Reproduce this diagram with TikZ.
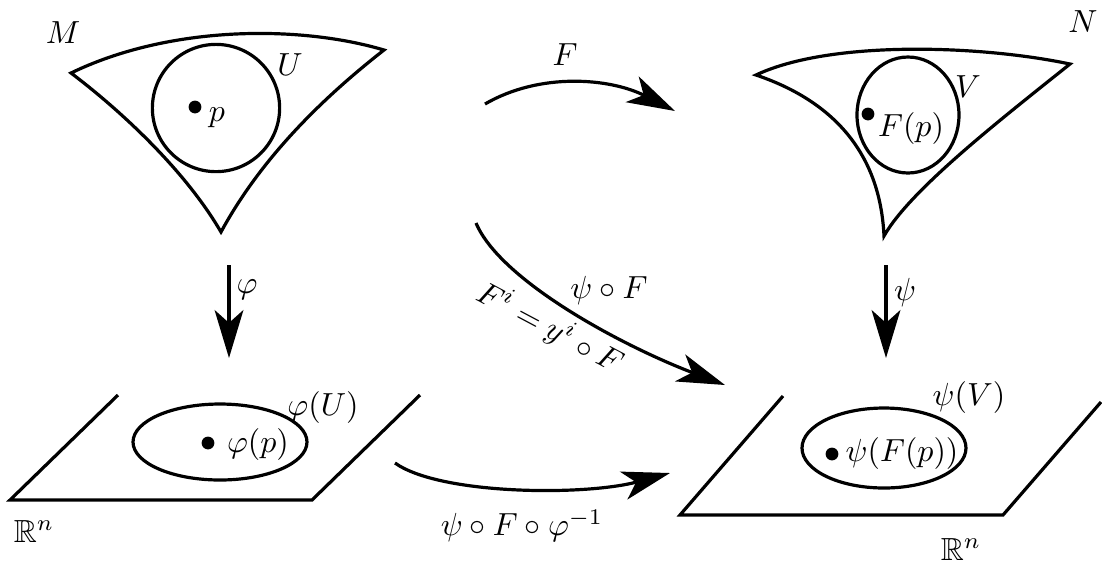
\documentclass[tikz,border=0pt]{standalone}
\usepackage{amsmath,amssymb}
\usetikzlibrary{arrows.meta}

\begin{document}
\begin{tikzpicture}[x=0.011cm,y=-0.011cm,line width=1pt,
  map/.style={-{Stealth[length=15pt,width=9pt,inset=4pt]}},
  every node/.style={inner sep=1pt}]
\useasboundingbox (0,0) rectangle (1102,560);
% manifolds M and N
\coordinate (m1) at (71,73);
\coordinate (m2) at (384,50);
\coordinate (m3) at (221,232);
\coordinate (n1) at (756,75);
\coordinate (n2) at (1070,64);
\coordinate (n3) at (884,236);
\draw (m1) .. controls (170,25) and (300,25) .. (m2) .. controls (320,100) and (260,160) .. (m3) .. controls (185,170) and (120,110) .. (m1) -- cycle;
\draw (n1) .. controls (830,40) and (980,45) .. (n2) .. controls (1000,120) and (910,190) .. (n3) .. controls (880,150) and (830,100) .. (n1) -- cycle;
\draw (216,108) circle (0.7cm);
\draw (908,115) ellipse [x radius=0.561cm,y radius=0.638cm];
% the two copies of R^n
\draw (118,395) -- (10,500) -- (312,500) -- (420,395);
\draw (783,396) -- (680,515) -- (1003,515) -- (1101,402);
\draw (220,442) ellipse [x radius=0.957cm,y radius=0.418cm];
\draw (884,448) ellipse [x radius=0.902cm,y radius=0.44cm];
% points
\fill (195,107) circle (2pt);\node (lp) at (217,118) {$p$};
\fill (868,114) circle (2pt);\node (lFp) at (911,128) {$F(p)$};
\fill (208,443) circle (2pt);\node (lphip) at (258,444) {$\varphi(p)$};
\fill (832,454) circle (2pt);\node (lpsiFp) at (902,453) {$\psi(F(p))$};
% set labels
\node (lM) at (63,33) {$M$};
\node (lU) at (290,65) {$U$};
\node (lN) at (1083,22) {$N$};
\node (lV) at (968,87) {$V$};
\node (lphiU) at (323,407) {$\varphi(U)$};
\node (lpsiV) at (969,397) {$\psi(V)$};
\node (lRl) at (34,531) {$\mathbb{R}^n$};
\node (lRr) at (961,549) {$\mathbb{R}^n$};
% maps
\coordinate (fs) at (485,104);
\coordinate (fe) at (675,111);
\coordinate (phis) at (229,265);
\coordinate (phie) at (229,358);
\coordinate (psis) at (886,265);
\coordinate (psie) at (886,358);
\coordinate (ds) at (476,223);
\coordinate (de) at (725,385);
\coordinate (bs) at (395,463);
\coordinate (be) at (670,473);
\draw[map] (fs) .. controls (540,72) and (610,78) .. (fe);
\draw[map] (phis) -- (phie);
\draw[map] (psis) -- (psie);
\draw[map] (ds) .. controls (500,280) and (620,345) .. (de);
\draw[map] (bs) .. controls (440,495) and (585,496) .. (be);
\node (lF) at (565,55) {$F$};
\node (lphi) at (247,290) {$\varphi$};
\node (lpsi) at (905,292) {$\psi$};
\node (lpsiF) at (609,290) {$\psi\circ F$};
\node[rotate=-28,inner sep=0pt] (lFi) at (550,328) {$F^i=y^i\circ F$};
\node (lcomp) at (522,526) {$\psi\circ F\circ\varphi^{-1}$};
\end{tikzpicture}
\end{document}
